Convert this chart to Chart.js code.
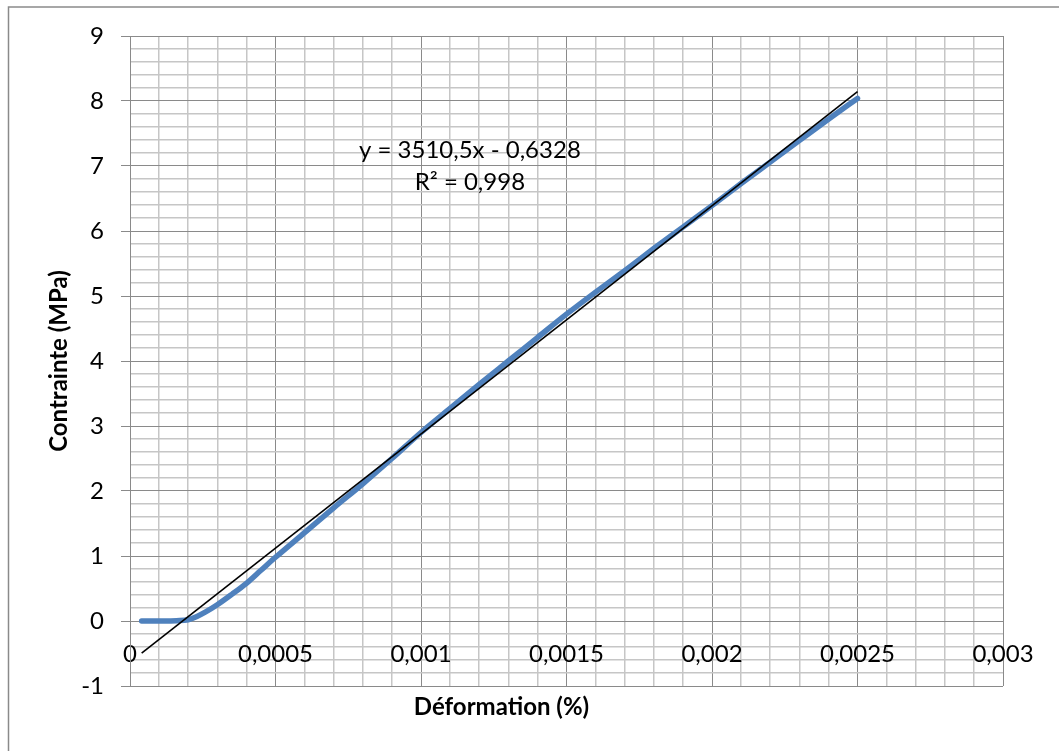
<!DOCTYPE html>
<html>
<head>
<meta charset="utf-8">
<title>Contrainte - Déformation</title>
<script src="https://cdn.jsdelivr.net/npm/chart.js@4/dist/chart.umd.min.js"></script>
<style>
  html, body { margin: 0; padding: 0; background: #ffffff; }
  canvas { display: block; }
</style>
</head>
<body>
<canvas id="chart" width="1059" height="751"></canvas>
<script>
// Measured stress-strain curve
const strain = [0.00004, 0.00008, 0.00012, 0.00016, 0.0002, 0.00023, 0.00026, 0.0003,
  0.00035, 0.0004, 0.00045, 0.0005, 0.0006, 0.0007, 0.0008, 0.0009, 0.001, 0.0011,
  0.0012, 0.0013, 0.0014, 0.0015, 0.0016, 0.0017, 0.0018, 0.0019, 0.002, 0.0021,
  0.0022, 0.0023, 0.0024, 0.0025];
const stress = [0, 0, 0, 0.005, 0.02, 0.07, 0.14, 0.25,
  0.41, 0.58, 0.78, 0.98, 1.36, 1.74, 2.11, 2.5, 2.9, 3.27,
  3.64, 4.0, 4.36, 4.72, 5.06, 5.39, 5.73, 6.06, 6.39, 6.73,
  7.06, 7.39, 7.72, 8.04];

// Linear trend line (least squares fit)
const trendSlope = 3510.5;
const trendIntercept = -0.6328;
const trendLabel = ['y = 3510,5x - 0,6328', 'R² = 0,998'];

// Axis tick labels (major ticks only)
const xTickLabels = ['0', '0,0005', '0,001', '0,0015', '0,002', '0,0025', '0,003'];
const yTickLabels = ['-1', '0', '1', '2', '3', '4', '5', '6', '7', '8', '9'];

const xTitle = 'Déformation (%)';
const yTitle = 'Contrainte (MPa)';

const FONT = 'Lato';
const MAJOR = '#8a8a8a';
const MINOR = '#c6c6c6';
const MINOR_PER_MAJOR = 5;

const curve = strain.map((x, i) => ({ x: x, y: stress[i] }));
const xFirst = strain[0];
const xLast = strain[strain.length - 1];
const trend = [
  { x: xFirst, y: trendSlope * xFirst + trendIntercept },
  { x: xLast, y: trendSlope * xLast + trendIntercept }
];

const isMajor = ctx => ctx.index % MINOR_PER_MAJOR === 0;
const gridColor = ctx => (isMajor(ctx) ? MAJOR : MINOR);
const gridWidth = ctx => (isMajor(ctx) ? 1 : 1.5);

// Light frame around the whole chart object
const framePlugin = {
  id: 'frame',
  beforeDraw(chart) {
    const c = chart.ctx;
    c.save();
    c.fillStyle = '#ffffff';
    c.fillRect(0, 0, chart.width, chart.height);
    c.strokeStyle = '#8a8a8a';
    c.lineWidth = 1.5;
    c.beginPath();
    c.moveTo(8.5, chart.height);
    c.lineTo(8.5, 7);
    c.lineTo(chart.width, 7);
    c.stroke();
    c.restore();
  }
};

// Equation and R² of the trend line
const equationPlugin = {
  id: 'equation',
  afterDatasetsDraw(chart) {
    const c = chart.ctx;
    const xs = chart.scales.x, ys = chart.scales.y;
    const cx = xs.getPixelForValue(0.001168);
    const cy = ys.getPixelForValue(7.0);
    c.save();
    c.fillStyle = '#000000';
    c.font = '24px ' + FONT;
    c.textAlign = 'center';
    c.textBaseline = 'middle';
    c.fillText(trendLabel[0], cx, cy - 16);
    c.fillText(trendLabel[1], cx, cy + 16);
    c.restore();
  }
};

new Chart(document.getElementById('chart'), {
  type: 'scatter',
  data: {
    datasets: [
      {
        label: 'Linéaire',
        data: trend,
        showLine: true,
        borderColor: '#000000',
        borderWidth: 1.6,
        pointRadius: 0,
        fill: false
      },
      {
        label: 'Contrainte',
        data: curve,
        showLine: true,
        borderColor: '#4f81bd',
        borderWidth: 5.5,
        borderCapStyle: 'round',
        borderJoinStyle: 'round',
        cubicInterpolationMode: 'monotone',
        pointRadius: 0,
        fill: false
      }
    ]
  },
  options: {
    responsive: false,
    devicePixelRatio: 1,
    animation: false,
    events: [],
    layout: { padding: { left: 0, right: 56, top: 36, bottom: 0 } },
    plugins: {
      legend: { display: false },
      tooltip: { enabled: false },
      title: {
        display: true,
        position: 'bottom',
        text: xTitle,
        color: '#000000',
        font: { family: FONT, size: 24, weight: 'bold' },
        padding: { top: 6.6, bottom: 29.6 }
      }
    },
    scales: {
      x: {
        type: 'linear',
        position: { y: 0 },
        min: 0,
        max: 0.003,
        grid: { color: gridColor, lineWidth: gridWidth, drawTicks: false },
        border: { color: MAJOR, width: 1 },
        ticks: {
          stepSize: 0.0001,
          autoSkip: false,
          maxRotation: 0,
          padding: 19,
          color: '#000000',
          font: { family: FONT, size: 24 },
          callback: (v, i) => (i % MINOR_PER_MAJOR === 0 ? xTickLabels[i / MINOR_PER_MAJOR] : '')
        }
      },
      y: {
        type: 'linear',
        position: 'left',
        min: -1,
        max: 9,
        afterFit: scale => { scale.width = 130; },
        grid: {
          color: gridColor,
          lineWidth: gridWidth,
          drawTicks: true,
          tickLength: 9,
          tickColor: ctx => (isMajor(ctx) ? MAJOR : 'rgba(0,0,0,0)')
        },
        border: { color: MAJOR, width: 1 },
        ticks: {
          stepSize: 0.2,
          autoSkip: false,
          padding: 17,
          color: '#000000',
          font: { family: FONT, size: 24 },
          callback: (v, i) => (i % MINOR_PER_MAJOR === 0 ? yTickLabels[i / MINOR_PER_MAJOR] : '')
        },
        title: {
          display: true,
          text: yTitle,
          color: '#000000',
          font: { family: FONT, size: 24, weight: 'bold' },
          padding: { top: 44.6, bottom: 0 }
        }
      }
    }
  },
  plugins: [framePlugin, equationPlugin]
});
</script>
</body>
</html>
